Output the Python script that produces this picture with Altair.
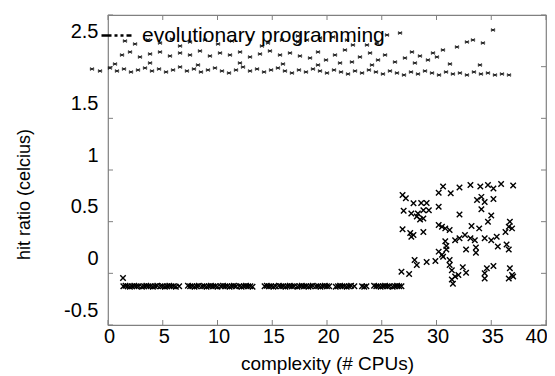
import altair as alt
import pandas as pd

series_name = "evolutionary programming"

# upper cluster (three bands)
top_x = [1.55, 2.47, 3.65, 4.75, 5.84, 7.49, 8.86, 10.05, 11.32, 12.97, 14.61, 15.89, 17.35, 18.17,
         19.36, 20.55, 21.83, 22.37, 23.65, 24.56, 25.48, 26.67, 17.35, 14.06, 6.58,
         1.28, 2.01, 2.92, 3.84, 4.75, 5.66, 6.58, 7.49, 8.40, 9.31, 10.23, 11.14, 12.06, 12.97,
         13.88, 14.79, 15.71, 16.62, 17.53, 18.45, 19.18, 19.91, 20.73, 21.64, 22.28, 23.01, 23.93,
         24.66, 25.30, 26.21, 27.12, 27.76, 28.49, 29.22, 29.68, 30.04, 30.59, 31.87, 32.78, 33.33,
         34.24, 35.16,
         -1.46, -0.73, 0.18, 0.82, 1.46, 2.10, 2.74, 3.38, 4.02, 4.66, 5.30, 5.94, 6.58, 7.21, 7.85,
         8.49, 9.13, 9.77, 10.41, 11.05, 11.69, 12.33, 12.97, 13.61, 14.25, 14.89, 15.52, 16.16,
         16.80, 17.44, 18.08, 18.72, 19.36, 20.00, 20.64, 21.28, 21.92, 22.56, 23.20, 23.83, 24.47,
         25.11, 25.75, 26.39, 27.03, 27.67, 28.31, 28.95, 29.59, 30.23, 30.87, 31.50, 32.14, 32.78,
         33.42, 34.06, 34.70, 35.34, 35.98, 36.62,
         0.64, 3.84, 8.22, 12.05, 15.98, 19.18, 21.19, 24.11, 28.03, 31.23, 33.97]
top_y = [2.248, 2.219, 2.258, 2.229, 2.268, 2.239, 2.258, 2.219, 2.248, 2.268, 2.229, 2.258, 2.239, 2.258,
         2.277, 2.287, 2.258, 2.210, 2.210, 2.229, 2.306, 2.326, 2.297, 2.200, 2.200,
         2.113, 2.142, 2.094, 2.123, 2.142, 2.103, 2.132, 2.113, 2.152, 2.103, 2.132, 2.113, 2.142, 2.094,
         2.123, 2.152, 2.113, 2.132, 2.103, 2.084, 2.142, 2.064, 2.113, 2.161, 2.045, 2.094, 2.132,
         2.064, 2.113, 2.045, 2.084, 2.142, 2.103, 2.064, 2.132, 2.094, 2.161, 2.190, 2.239, 2.258,
         2.229, 2.355,
         1.978, 1.958, 1.987, 1.958, 1.978, 1.948, 1.968, 1.987, 1.958, 1.978, 1.948, 1.968, 1.997, 1.958, 1.978,
         1.948, 1.968, 1.987, 1.958, 1.939, 1.968, 1.997, 1.958, 1.978, 1.948, 1.968, 1.987, 1.958,
         1.939, 1.968, 1.948, 1.978, 1.958, 1.939, 1.968, 1.948, 1.929, 1.958, 1.939, 1.968, 1.948,
         1.929, 1.958, 1.939, 1.919, 1.948, 1.929, 1.958, 1.939, 1.919, 1.948, 1.929, 1.939, 1.919,
         1.948, 1.929, 1.939, 1.919, 1.929, 1.919,
         2.026, 2.035, 2.016, 2.035, 2.026, 2.016, 2.035, 2.016, 2.035, 2.026, 2.016]

# lower flat run (dense)
flat_x = [1.4, 1.6, 1.8, 2.0, 2.2, 2.4, 2.6, 2.8, 3.1, 3.3, 3.5, 3.7, 3.9, 4.1, 4.3, 4.5, 4.8, 5.0,
          5.2, 5.4, 5.6, 5.8, 6.0, 6.2, 6.5, 7.3, 7.5, 7.7, 7.9, 8.1, 8.3, 8.6, 8.8, 9.0, 9.2, 9.4,
          9.6, 9.8, 10.0, 10.3, 10.5, 10.7, 10.9, 11.1, 11.3, 11.5, 11.7, 12.0, 12.2, 12.4, 12.6,
          12.8, 13.0, 13.2, 14.3, 14.5, 14.7, 14.9, 15.1, 15.3, 15.6, 15.8, 16.0, 16.2, 16.4, 16.6,
          16.8, 17.0, 17.3, 17.5, 17.7, 17.9, 18.1, 18.3, 18.5, 18.7, 19.0, 19.2, 19.4, 19.6, 19.8,
          20.0, 20.2, 20.8, 21.0, 21.2, 21.4, 21.6, 21.8, 22.0, 22.2, 22.5, 23.2, 23.4, 23.6, 24.3,
          24.5, 24.7, 24.9, 25.1, 25.3, 25.5, 25.7, 26.0, 26.2, 26.4, 26.6, 26.8]
flat_y = [-0.125, -0.12, -0.125, -0.13, -0.125, -0.12, -0.125, -0.125, -0.13, -0.125, -0.12, -0.125,
          -0.125, -0.13, -0.125, -0.12, -0.125, -0.125, -0.13, -0.125, -0.12, -0.125, -0.125, -0.13,
          -0.125, -0.12, -0.125, -0.125, -0.13, -0.125, -0.12, -0.125, -0.125, -0.13, -0.125, -0.12,
          -0.125, -0.125, -0.13, -0.125, -0.12, -0.125, -0.125, -0.13, -0.125, -0.12, -0.125, -0.125,
          -0.13, -0.125, -0.12, -0.125, -0.125, -0.13, -0.125, -0.12, -0.125, -0.125, -0.13, -0.125,
          -0.12, -0.125, -0.125, -0.13, -0.125, -0.12, -0.125, -0.125, -0.13, -0.125, -0.12, -0.125,
          -0.125, -0.13, -0.125, -0.12, -0.125, -0.125, -0.13, -0.125, -0.12, -0.125, -0.125, -0.13,
          -0.125, -0.12, -0.125, -0.125, -0.13, -0.125, -0.12, -0.125, -0.125, -0.13, -0.125, -0.12,
          -0.125, -0.125, -0.13, -0.125, -0.12, -0.125, -0.125, -0.13, -0.125, -0.12, -0.125, -0.125]

# lower-right scatter plus the lone point above the run
low_x = [1.37,
         26.9, 27.2, 27.9, 28.6, 29.1, 30.2, 30.6, 31.3, 32.1, 33.1, 34.0, 34.7, 35.2, 35.9, 37.0,
         27.0, 27.7, 28.3, 28.8, 29.3, 28.2, 28.5, 28.8, 30.2, 32.1, 33.7, 34.1, 34.4, 35.2, 34.1, 35.0, 34.7,
         26.9, 27.6, 27.7, 27.9, 28.8, 30.2, 30.5, 30.8, 31.2, 33.2, 33.9, 34.4, 35.0, 35.5, 36.3, 36.6, 36.9, 36.7,
         30.8, 30.9, 30.9, 31.7, 32.1, 32.6, 33.1, 33.5, 32.7, 33.6, 33.6, 35.6, 36.4, 36.6,
         30.2, 30.5, 30.6, 28.0, 28.2, 29.1, 29.9, 31.2, 31.2, 31.4, 32.4, 32.7, 26.8, 27.5,
         31.4, 31.7, 32.0, 31.5, 34.6, 34.4, 34.4, 35.2, 36.7, 36.9, 36.6, 37.0]
low_y = [-0.045,
         0.758, 0.726, 0.678, 0.68, 0.68, 0.78, 0.84, 0.775, 0.83, 0.855, 0.84, 0.855, 0.82, 0.865, 0.85,
         0.606, 0.58, 0.58, 0.61, 0.61, 0.55, 0.52, 0.53, 0.645, 0.57, 0.71, 0.74, 0.69, 0.72, 0.62, 0.56, 0.50,
         0.426, 0.39, 0.355, 0.37, 0.40, 0.468, 0.45, 0.435, 0.42, 0.458, 0.435, 0.34, 0.32, 0.355, 0.40, 0.45, 0.435, 0.50,
         0.31, 0.265, 0.23, 0.32, 0.34, 0.37, 0.34, 0.32, 0.23, 0.25, 0.20, 0.26, 0.28, 0.23,
         0.21, 0.18, 0.16, 0.13, 0.08, 0.11, 0.12, 0.13, 0.08, 0.03, 0.06, 0.006, 0.016, -0.006,
         -0.06, -0.03, -0.016, -0.10, 0.05, 0.0, -0.05, 0.07, 0.05, -0.016, -0.05, -0.03]

x_ticks = [0, 5, 10, 15, 20, 25, 30, 35, 40]
y_ticks = [-0.5, 0, 0.5, 1, 1.5, 2, 2.5]

W, H = 438, 310
FONT = "Liberation Sans"
GRAY = "#808080"

top_df = pd.DataFrame({"x": top_x, "y": top_y, "series": series_name})
low_df = pd.DataFrame({"x": low_x + flat_x, "y": low_y + flat_y, "series": series_name})
xt_df = pd.DataFrame({"x": x_ticks})
yt_df = pd.DataFrame({"y": y_ticks})

xs = alt.Scale(domain=[0, 40], nice=False, zero=False)
ys = alt.Scale(domain=[-0.5, 2.5], nice=False, zero=False)

x_axis = alt.Axis(values=x_ticks, title="complexity (# CPUs)", domain=False, ticks=False, grid=False,
                  labelFont=FONT, labelFontSize=20, labelColor="black", labelPadding=1,
                  labelFlush=False, labelOverlap=False,
                  labelOffset={"condition": {"test": "datum.value == 40", "value": -10}, "value": 1},
                  titleFont=FONT, titleFontSize=19, titleFontWeight="normal", titleColor="black",
                  titleY=29, titleBaseline="top")
y_axis = alt.Axis(values=y_ticks, title="hit ratio (celcius)", domain=False, ticks=False, grid=False,
                  labelFont=FONT, labelFontSize=20, labelColor="black", labelPadding=10,
                  labelOverlap=False, labelFlush=False,
                  labelExpr="datum.value == 2 ? '' : toString(datum.value)",
                  labelOffset={"condition": {"test": "datum.value == 2.5", "value": 16}, "value": -15},
                  titleFont=FONT, titleFontSize=18, titleFontWeight="normal", titleColor="black",
                  titleX=-84, titleY=179, titleAngle=270, titleBaseline="middle")

legend = alt.Legend(orient="none", legendX=-8, legendY=4, title=None, padding=0,
                    labelFont=FONT, labelFontSize=21, labelColor="black", labelOffset=9, labelLimit=0,
                    symbolType="stroke", symbolSize=900, symbolStrokeWidth=2.5,
                    symbolStrokeColor="black", symbolDash=[10, 3, 3, 3, 3, 3])
color = alt.Color("series:N", scale=alt.Scale(domain=[series_name], range=["black"]), legend=legend)

X = alt.X("x:Q", scale=xs, axis=x_axis)
Y = alt.Y("y:Q", scale=ys, axis=y_axis)

top_layer = alt.Chart(top_df).mark_point(
    shape="M-1,-0.6L1,0.6M-1,0.6L1,-0.6", filled=False, size=18, strokeWidth=1.1, opacity=0.9
).encode(x=X, y=Y, color=color)

low_layer = alt.Chart(low_df).mark_point(
    shape="M-1,-1L1,1M-1,1L1,-1", filled=False, size=30, strokeWidth=1.4, opacity=1
).encode(x=X, y=Y, color=color)

left_ticks = alt.Chart(yt_df).mark_rule(color=GRAY).encode(y=Y, x=alt.value(0), x2=alt.value(5))
right_ticks = alt.Chart(yt_df).mark_rule(color=GRAY).encode(y=Y, x=alt.value(W - 5), x2=alt.value(W))
bottom_ticks = alt.Chart(xt_df).mark_rule(color=GRAY).encode(x=X, y=alt.value(H - 5), y2=alt.value(H))
top_ticks = alt.Chart(xt_df).mark_rule(color=GRAY).encode(x=X, y=alt.value(0), y2=alt.value(5))

chart = alt.layer(left_ticks, right_ticks, bottom_ticks, top_ticks, low_layer, top_layer).properties(
    width=W, height=H,
    autosize=alt.AutoSizeParams(type="none"),
    padding={"left": 100, "top": 7, "right": 1, "bottom": 51},
    background="white",
).configure_view(stroke=GRAY, strokeWidth=1.2)

chart.save("out.html", embed_options={"renderer": "svg", "actions": False})
